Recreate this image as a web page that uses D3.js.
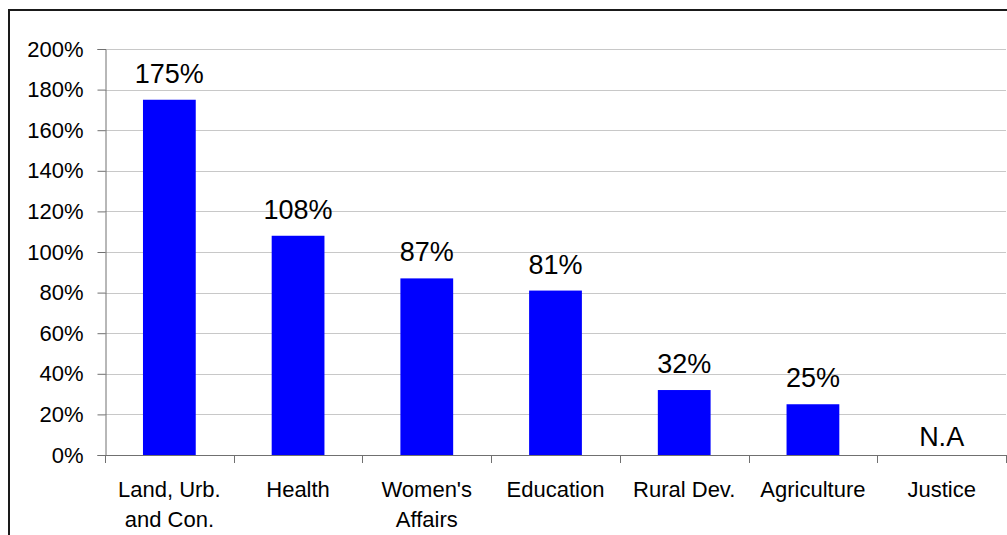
<!DOCTYPE html>
<html>
<head>
<meta charset="utf-8">
<script src="https://cdn.jsdelivr.net/npm/d3@7"></script>
<style>
  html, body { margin: 0; padding: 0; background: #fff; }
  svg { display: block; font-family: Arial, "Liberation Sans", sans-serif; }
</style>
</head>
<body>
<svg id="chart" width="1007" height="535"></svg>
<script>
// Budget execution by sector
const categories = [["Land, Urb.", "and Con."], ["Health"], ["Women's", "Affairs"], ["Education"], ["Rural Dev."], ["Agriculture"], ["Justice"]];
const values = [175, 108, 87, 81, 32, 25, null];
const valueLabels = ["175%", "108%", "87%", "81%", "32%", "25%", "N.A"];
const yTicks = [0, 20, 40, 60, 80, 100, 120, 140, 160, 180, 200];

const svg = d3.select("#chart");
const keys = categories.map(c => c.join(" "));

const plotLeft = 105, plotRight = 1006, plotTop = 49, plotBottom = 455;

const x = d3.scaleBand().domain(keys).range([plotLeft, plotRight])
  .paddingInner(0.59).paddingOuter(0.295);
const y = d3.scaleLinear().domain([0, 200]).range([plotBottom, plotTop]);

// outer frame
svg.append("rect")
  .attr("x", 9).attr("y", 10).attr("width", 1100).attr("height", 600)
  .attr("fill", "none").attr("stroke", "#1a1a1a").attr("stroke-width", 2);

// gridlines
svg.append("g").selectAll("line")
  .data(yTicks.filter(t => t > 0))
  .join("line")
  .attr("x1", plotLeft).attr("x2", plotRight)
  .attr("y1", d => Math.round(y(d)) + 0.5).attr("y2", d => Math.round(y(d)) + 0.5)
  .attr("stroke", "#c8c8c8").attr("stroke-width", 1);

// bars
svg.append("g").selectAll("rect")
  .data(values.map((v, i) => ({ v, k: keys[i] })).filter(d => d.v != null))
  .join("rect")
  .attr("x", d => x(d.k)).attr("width", x.bandwidth())
  .attr("y", d => y(d.v)).attr("height", d => y(0) - y(d.v))
  .attr("fill", "#0000ff");

// y axis
const yAxis = d3.axisLeft(y).tickValues(yTicks).tickSize(8).tickPadding(14)
  .tickFormat(d => d + "%");
const gy = svg.append("g").attr("transform", `translate(${plotLeft + 0.5},0)`).call(yAxis);
gy.select(".domain").attr("stroke", "#707070");
gy.selectAll(".tick line").attr("stroke", "#707070");
gy.selectAll(".tick text").attr("fill", "#000").attr("font-size", 22)
  .attr("font-family", "Arial, 'Liberation Sans', sans-serif");

// x axis line and category boundary ticks
const step = x.step();
const gx = svg.append("g");
gx.append("line").attr("x1", plotLeft).attr("x2", plotRight)
  .attr("y1", plotBottom + 0.5).attr("y2", plotBottom + 0.5).attr("stroke", "#707070");
gx.selectAll("line.tk").data(d3.range(keys.length + 1)).join("line")
  .attr("class", "tk")
  .attr("x1", i => Math.round(plotLeft + i * step) + 0.5).attr("x2", i => Math.round(plotLeft + i * step) + 0.5)
  .attr("y1", plotBottom).attr("y2", plotBottom + 8).attr("stroke", "#707070");

// category labels
const lab = gx.selectAll("text.cat").data(categories).join("text")
  .attr("class", "cat")
  .attr("text-anchor", "middle")
  .attr("font-size", 22)
  .attr("x", (d, i) => x(keys[i]) + x.bandwidth() / 2)
  .attr("y", 497);
lab.selectAll("tspan").data(d => d).join("tspan")
  .attr("x", function () { return d3.select(this.parentNode).attr("x"); })
  .attr("dy", (d, j) => j === 0 ? 0 : 30)
  .text(d => d);

// value labels
svg.append("g").selectAll("text")
  .data(valueLabels)
  .join("text")
  .attr("text-anchor", "middle")
  .attr("font-size", 27)
  .attr("x", (d, i) => x(keys[i]) + x.bandwidth() / 2)
  .attr("y", (d, i) => values[i] == null ? y(0) - 9 : y(values[i]) - 17)
  .text(d => d);
</script>
</body>
</html>
